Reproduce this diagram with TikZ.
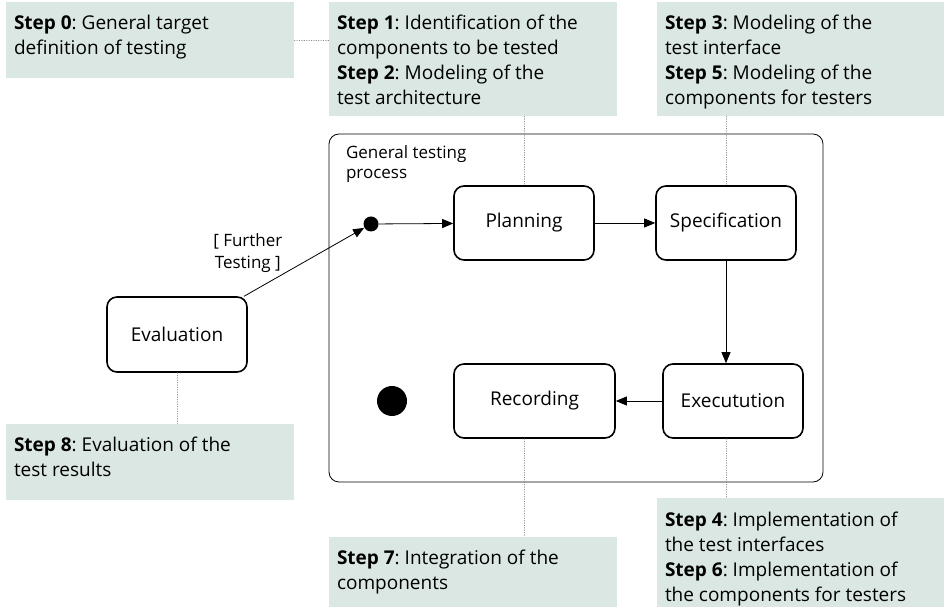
\documentclass[tikz,border=0pt]{standalone}
\usepackage{fontspec}
\setmainfont{Open Sans}
\frenchspacing
\usetikzlibrary{arrows.meta, calc}

\begin{document}
\begin{tikzpicture}[%
        > = {Triangle[length = 11pt, width = 9pt]},
        x = 1pt,
        y = 1pt,
        line width = 0.8pt,
        line cap = round,
        state/.style = {%
            draw,
            line width = 1.6pt,
            rounded corners = 10pt,
            minimum width = 140pt,
            minimum height = 74pt,
            font = \fontsize{19}{23}\selectfont
        },
        notebox/.style = {fill = notegreen, inner sep = 0pt},
        notetext/.style = {%
            anchor = north west,
            align = left,
            inner sep = 0pt,
            font = \fontsize{19}{25}\selectfont
        },
        notelink/.style = {%
            draw = black!45,
            line width = 0.6pt,
            dash pattern = on 0.6pt off 1.8pt
        }
    ]

        % Start a group to locally define the note colour.
        \begingroup

            % Colour of the step notes.
            \definecolor{notegreen}{RGB}{218, 231, 226}

            % Fix the size of the picture.
            \useasboundingbox (0, 0) rectangle (944, 607);

            % coordinates
            \coordinate (P) at (524, 384); % Planning.
            \coordinate (S) at (726, 384); % Specification.
            \coordinate (X) at (733, 206); % Execution.
            \coordinate (R) at (534.5, 206); % Recording.
            \coordinate (E) at (177, 272.5); % Evaluation.
            \coordinate (I) at (371, 383); % Initial state.
            \coordinate (F) at (392, 206); % Final state.

            % Step notes.
            \node[notebox, minimum width = 288pt, minimum height = 76pt] (box0) at (150, 567) {};
            \node[notebox, minimum width = 288pt, minimum height = 114pt] (box12) at (473, 548) {};
            \node[notebox, minimum width = 287pt, minimum height = 114pt] (box35) at (800.5, 548) {};
            \node[notebox, minimum width = 288pt, minimum height = 76pt] (box8) at (150, 145) {};
            \node[notebox, minimum width = 288pt, minimum height = 70pt] (box7) at (473, 35) {};
            \node[notebox, minimum width = 287pt, minimum height = 109pt] (box46) at (800.5, 54.5) {};

            \node[notetext] (note0) at ($(box0.north west) + (8, -13)$)
                {\textbf{Step 0}: General target\\definition of testing};
            \node[notetext] (note12) at ($(box12.north west) + (8, -13)$)
                {\textbf{Step 1}: Identification of the\\components to be tested\\
                 \textbf{Step 2}: Modeling of the\\test architecture};
            \node[notetext] (note35) at ($(box35.north west) + (8, -13)$)
                {\textbf{Step 3}: Modeling of the\\test interface\\
                 \textbf{Step 5}: Modeling of the\\components for testers};
            \node[notetext] (note8) at ($(box8.north west) + (8, -13)$)
                {\textbf{Step 8}: Evaluation of the\\test results};
            \node[notetext] (note7) at ($(box7.north west) + (8, -13)$)
                {\textbf{Step 7}: Integration of the\\components};
            \node[notetext] (note46) at ($(box46.north west) + (8, -14)$)
                {\textbf{Step 4}: Implementation of\\the test interfaces\\
                 \textbf{Step 6}: Implementation of\\the components for testers};

            % Frame of the testing process.
            \node[%
                draw,
                rounded corners = 10pt,
                minimum width = 494pt,
                minimum height = 348pt
            ] (proc) at (576, 299) {};
            \node[%
                anchor = north west,
                align = left,
                inner sep = 0pt,
                font = \fontsize{17}{20}\selectfont
            ] (proclabel) at ($(proc.north west) + (17, -12)$) {General testing\\process};

            % States.
            \node[state] (plan) at (P) {Planning};
            \node[state] (spec) at (S) {Specification};
            \node[state] (exec) at (X) {Executution};
            \node[state, minimum width = 161pt] (rec) at (R) {Recording};
            \node[state, minimum height = 75pt] (eval) at (E) {Evaluation};

            % Initial and final states.
            \node[circle, fill, inner sep = 0pt, minimum size = 15pt] (init) at (I) {};
            \node[circle, fill, inner sep = 0pt, minimum size = 30pt] (final) at (F) {};

            % Dotted links from the notes.
            \draw[notelink] (box0.east) to (box0.east -| box12.west);
            \draw[notelink] (plan.north |- box12.south) to (plan.north);
            \draw[notelink] (spec.north |- box35.south) to (spec.north);
            \draw[notelink] (spec.south |- exec.south) to (spec.south |- box46.north);
            \draw[notelink] (plan.south |- rec.south) to (plan.south |- box7.north);
            \draw[notelink] (eval.south) to (eval.south |- box8.north);

            % Transitions.
            \draw[->] (init) to (plan);
            \draw[->] (plan) to (spec);
            \draw[->] (spec.south) to (spec.south |- exec.north);
            \draw[->] (exec) to (rec);
            \draw[->] (eval) to node[%
                    pos = 0.33,
                    above left,
                    inner sep = 1pt,
                    align = center,
                    font = \fontsize{17}{22}\selectfont
                ] (guard) {[ Further\\Testing ]} (init);
        \endgroup
    \end{tikzpicture}
\end{document}
